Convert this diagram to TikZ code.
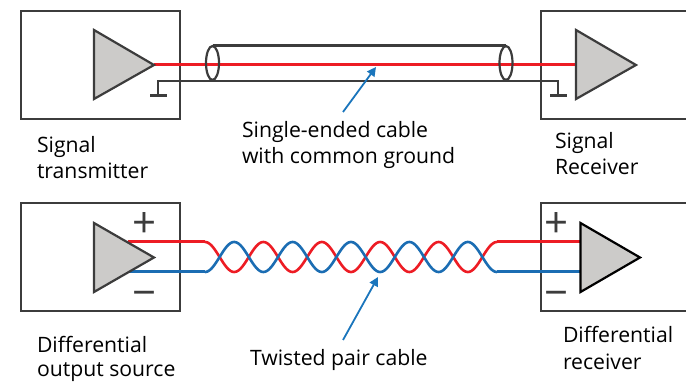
\documentclass[tikz,border=0pt]{standalone}
\usepackage{fontspec}
\setmainfont{Open Sans}
\usetikzlibrary{arrows.meta}
\definecolor{dk}{HTML}{3C3C3C}
\definecolor{wred}{HTML}{ED1C24}
\definecolor{wblue}{HTML}{1B6DB3}
\definecolor{arrblue}{HTML}{1A75BC}
\definecolor{tri}{HTML}{CCCBC9}
\tikzset{
 x=1pt,y=-1pt,
 boxn/.style={draw=dk,line width=2.4pt,minimum width=#1,minimum height=108pt,inner sep=0pt,anchor=north west},
 ampl/.style={draw=dk,fill=tri,line width=2.2pt,line join=miter},
 redw/.style={draw=wred,line width=3pt},
 bluew/.style={draw=wblue,line width=3pt},
 gnd/.style={draw=dk,line width=2.2pt},
 gbar/.style={draw=dk,line width=3pt},
 shield/.style={draw=dk,line width=3pt},
 callout/.style={draw=arrblue,line width=1.8pt,-{Triangle[length=9pt,width=9pt]}},
 lab/.style={font=\fontsize{21.2}{26}\selectfont,inner sep=0pt,outer sep=0pt,align=left,anchor=base west},
 sign/.style={font=\fontsize{42}{42}\selectfont,text=dk,inner sep=0pt,anchor=center},
}
\begin{document}
\begin{tikzpicture}
\useasboundingbox (0,0) rectangle (686,382);
\begin{scope}
\clip (0,0) rectangle (686,382);
\node[boxn=158.5pt] (bTL) at (20,10) {};
\node[boxn=160pt] (bTR) at (540,10) {};
\node[boxn=158.5pt] (bBL) at (20,202) {};
\node[boxn=160pt] (bBR) at (540,202) {};
\end{scope}
% named points
\coordinate (tlOut) at (154,65);
\coordinate (trIn) at (576,65);
\coordinate (gl) at (158,81); \coordinate (gr) at (558,81);
\coordinate (gl2) at (158,96); \coordinate (gr2) at (558,96);
\coordinate (s1) at (213,46); \coordinate (s2) at (506,46);
\coordinate (rs) at (205,242); \coordinate (bs) at (205,272);
\coordinate (re) at (497,242); \coordinate (be) at (497,272);
% single ended
\draw[gnd] (gl2) -- (gl) -- (gr) -- (gr2);
\draw[gbar] (150,96) -- (167,96);
\draw[gbar] (550,96) -- (567,96);
\draw[shield] (s1) -- (s2);
\draw[redw] (tlOut) -- (trIn);
\draw[gnd] (212.5,63) ellipse [x radius=6.5,y radius=17];
\draw[gnd] (506,63) ellipse [x radius=6.5,y radius=17];
\draw[ampl] (94,30) -- (94,99) -- (154,65) -- cycle;
\draw[ampl] (576,30) -- (576,99) -- (636,65) -- cycle;
% differential
\draw[redw] (128,242) -- (rs);
\draw[bluew] (128,272) -- (bs);
\draw[redw] (re) -- (581,242);
\draw[bluew] (be) -- (581,272);
\draw[wred,line width=2.6pt,line cap=round] plot[domain=0:1800,samples=241,smooth] ({205+\x*0.16222},{257-15*cos(\x)});
\draw[wblue,line width=2.6pt,line cap=round] plot[domain=0:1800,samples=241,smooth] ({205+\x*0.16222},{257+15*cos(\x)});
\draw[ampl] (94,223) -- (94,292) -- (154,257.5) -- cycle;
\draw[ampl,draw=black] (580.5,223) -- (580.5,292) -- (640,257.5) -- cycle;
\node[sign] (pl) at (145,225) {+};
\node[sign] (ml) at (145,299) {−};
\node[sign] (pr) at (557,225) {+};
\node[sign] (mr) at (557,299) {−};
% labels
\node[lab] (t1) at (37,179) {Signal\\transmitter};
\node[lab] (t2) at (242,164) {Single-ended cable\\with common ground};
\node[lab] (t3) at (555,175) {Signal\\Receiver};
\node[lab] (t4) at (37,377) {Differential\\[-1.5pt]output source};
\node[lab] (t5) at (250,365) {Twisted pair cable};
\node[lab] (t6) at (563,369) {Differential\\receiver};
\coordinate (a1) at (343,112); \coordinate (a1e) at (376,67);
\coordinate (a2) at (343,340); \coordinate (a2e) at (378,277);
\draw[callout] (a1) -- (a1e);
\draw[callout] (a2) -- (a2e);
\end{tikzpicture}
\end{document}
